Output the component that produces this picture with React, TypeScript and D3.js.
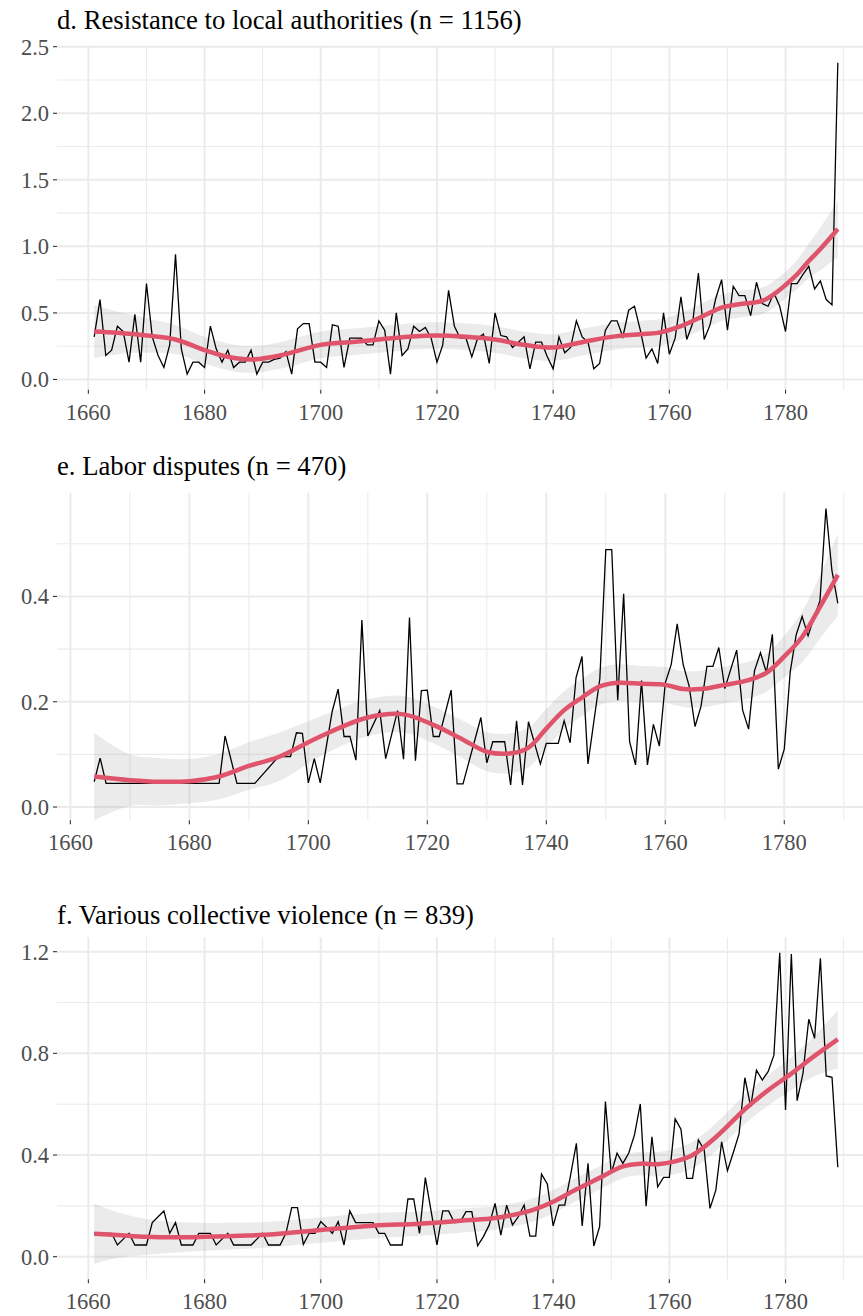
import React, { useEffect, useRef } from 'react';
import * as d3 from 'd3';

// ---- panel d: resistance to local authorities ----
const dYears = d3.range(1661, 1790);
const dValues = [
  0.32, 0.60, 0.18, 0.22, 0.40, 0.36, 0.13, 0.49, 0.13, 0.72,
  0.32, 0.18, 0.09, 0.26, 0.94, 0.23, 0.04, 0.13, 0.13, 0.09,
  0.40, 0.23, 0.13, 0.22, 0.09, 0.13, 0.13, 0.22, 0.04, 0.13,
  0.13, 0.15, 0.16, 0.21, 0.04, 0.38, 0.42, 0.42, 0.13, 0.13,
  0.09, 0.41, 0.40, 0.09, 0.31, 0.31, 0.31, 0.26, 0.26, 0.44,
  0.37, 0.04, 0.50, 0.18, 0.23, 0.40, 0.36, 0.39, 0.31, 0.13,
  0.26, 0.67, 0.40, 0.31, 0.31, 0.17, 0.31, 0.34, 0.12, 0.50,
  0.33, 0.32, 0.24, 0.28, 0.32, 0.08, 0.28, 0.28, 0.17, 0.08,
  0.32, 0.20, 0.24, 0.44, 0.32, 0.28, 0.08, 0.12, 0.37, 0.44,
  0.44, 0.32, 0.52, 0.55, 0.37, 0.16, 0.23, 0.12, 0.50, 0.19,
  0.31, 0.62, 0.30, 0.42, 0.80, 0.30, 0.41, 0.61, 0.75, 0.37,
  0.70, 0.63, 0.63, 0.48, 0.73, 0.57, 0.55, 0.65, 0.55, 0.36,
  0.72, 0.72, 0.79, 0.85, 0.68, 0.74, 0.60, 0.56, 2.38
];
const dSmoothYears = [1661, 1665, 1670, 1675, 1680, 1684, 1688, 1693, 1700, 1705, 1710, 1715, 1720, 1725, 1730, 1735, 1740, 1745, 1750, 1755, 1758, 1762, 1766, 1769, 1772, 1776, 1778, 1780, 1782, 1784, 1786, 1789];
const dSmooth = [0.36, 0.35, 0.33, 0.30, 0.22, 0.17, 0.15, 0.18, 0.26, 0.28, 0.30, 0.32, 0.33, 0.32, 0.30, 0.26, 0.24, 0.28, 0.32, 0.34, 0.35, 0.40, 0.48, 0.54, 0.565, 0.59, 0.64, 0.71, 0.79, 0.89, 0.98, 1.13];
const dSmoothSe = [0.20, 0.16, 0.13, 0.11, 0.10, 0.10, 0.10, 0.10, 0.10, 0.10, 0.10, 0.10, 0.10, 0.10, 0.10, 0.10, 0.10, 0.10, 0.10, 0.10, 0.10, 0.10, 0.10, 0.10, 0.10, 0.10, 0.10, 0.10, 0.11, 0.13, 0.16, 0.21];
const dYBreaks = [0, 0.5, 1, 1.5, 2, 2.5];
const dYMinor = [0.25, 0.75, 1.25, 1.75, 2.25];

// ---- panel e: labor disputes ----
const eYears = [
  1664, 1665, 1666, 1685, 1686, 1688, 1691, 1695, 1696, 1697, 1698, 1699, 1700, 1701, 1702, 1704, 1705, 1706, 1707, 1708,
  1709, 1710, 1712, 1713, 1715, 1716, 1717, 1718, 1719, 1720, 1721, 1722, 1724, 1725, 1726, 1729, 1730, 1731, 1732, 1733,
  1734, 1735, 1736, 1737, 1739, 1740, 1741, 1742, 1743, 1744, 1745, 1746, 1747, 1749, 1750, 1751, 1752, 1753, 1754, 1755,
  1756, 1757, 1758, 1759, 1760, 1761, 1762, 1763, 1764, 1765, 1766, 1767, 1768, 1769, 1770, 1772, 1773, 1774, 1775, 1776,
  1777, 1778, 1779, 1780, 1781, 1782, 1783, 1784, 1785, 1786, 1787, 1788, 1789
];
const eValues = [
  0.048, 0.093, 0.045, 0.045, 0.135, 0.045, 0.045, 0.096, 0.096, 0.096, 0.141, 0.140, 0.046, 0.092, 0.046, 0.181, 0.224, 0.134, 0.134, 0.089,
  0.355, 0.135, 0.183, 0.092, 0.183, 0.091, 0.360, 0.088, 0.221, 0.222, 0.134, 0.134, 0.222, 0.044, 0.044, 0.170, 0.084, 0.124, 0.124, 0.124,
  0.042, 0.164, 0.042, 0.162, 0.082, 0.121, 0.121, 0.121, 0.164, 0.122, 0.246, 0.286, 0.082, 0.244, 0.489, 0.489, 0.203, 0.405, 0.124, 0.080,
  0.240, 0.080, 0.157, 0.116, 0.236, 0.271, 0.348, 0.271, 0.230, 0.153, 0.191, 0.267, 0.267, 0.303, 0.225, 0.298, 0.184, 0.148, 0.259, 0.293,
  0.255, 0.328, 0.072, 0.110, 0.257, 0.327, 0.362, 0.325, 0.360, 0.392, 0.567, 0.450, 0.387
];
const eSmoothYears = [1664, 1670, 1675, 1680, 1685, 1690, 1695, 1702, 1710, 1716, 1721, 1726, 1730, 1734, 1737, 1740, 1743, 1746, 1749, 1752, 1756, 1760, 1763, 1766, 1770, 1774, 1777, 1780, 1783, 1786, 1789];
const eSmooth = [0.058, 0.051, 0.048, 0.049, 0.058, 0.078, 0.095, 0.134, 0.170, 0.176, 0.156, 0.128, 0.105, 0.102, 0.113, 0.149, 0.184, 0.208, 0.229, 0.236, 0.234, 0.232, 0.224, 0.224, 0.232, 0.241, 0.255, 0.286, 0.323, 0.380, 0.441];
const eSmoothSe = [0.083, 0.049, 0.045, 0.042, 0.043, 0.045, 0.046, 0.038, 0.035, 0.035, 0.035, 0.036, 0.037, 0.038, 0.038, 0.037, 0.036, 0.035, 0.035, 0.035, 0.034, 0.034, 0.034, 0.035, 0.035, 0.035, 0.036, 0.040, 0.048, 0.060, 0.078];
const eYBreaks = [0, 0.2, 0.4];
const eYMinor = [0.1, 0.3, 0.5];

// ---- panel f: various collective violence ----
const fYears = d3.range(1661, 1790);
const fValues = [
  0.092, 0.092, 0.092, 0.092, 0.046, 0.069, 0.092, 0.046, 0.046, 0.046,
  0.134, 0.157, 0.180, 0.092, 0.134, 0.046, 0.046, 0.046, 0.092, 0.092,
  0.092, 0.046, 0.069, 0.092, 0.046, 0.046, 0.046, 0.046, 0.069, 0.092,
  0.046, 0.046, 0.046, 0.092, 0.193, 0.193, 0.048, 0.092, 0.092, 0.138,
  0.116, 0.092, 0.138, 0.046, 0.180, 0.134, 0.134, 0.134, 0.134, 0.092,
  0.092, 0.046, 0.046, 0.046, 0.227, 0.227, 0.092, 0.311, 0.178, 0.046,
  0.180, 0.180, 0.134, 0.136, 0.177, 0.177, 0.043, 0.079, 0.125, 0.210,
  0.085, 0.203, 0.125, 0.157, 0.203, 0.081, 0.081, 0.325, 0.286, 0.121,
  0.203, 0.203, 0.321, 0.446, 0.121, 0.367, 0.042, 0.118, 0.610, 0.328,
  0.407, 0.367, 0.407, 0.479, 0.601, 0.199, 0.472, 0.275, 0.312, 0.312,
  0.542, 0.502, 0.308, 0.308, 0.459, 0.420, 0.190, 0.262, 0.452, 0.338,
  0.409, 0.483, 0.704, 0.590, 0.734, 0.695, 0.728, 0.793, 1.196, 0.577,
  1.191, 0.614, 0.721, 0.934, 0.859, 1.174, 0.711, 0.706, 0.352
];
const fSmoothYears = [1661, 1665, 1670, 1675, 1680, 1686, 1692, 1700, 1709, 1717, 1725, 1730, 1736, 1740, 1744, 1748, 1752, 1755, 1758, 1761, 1764, 1768, 1773, 1777, 1781, 1785, 1789];
const fSmooth = [0.090, 0.085, 0.078, 0.076, 0.078, 0.082, 0.088, 0.105, 0.122, 0.130, 0.143, 0.152, 0.180, 0.216, 0.265, 0.310, 0.355, 0.366, 0.364, 0.375, 0.400, 0.470, 0.580, 0.655, 0.720, 0.790, 0.855];
const fSmoothSe = [0.118, 0.090, 0.070, 0.060, 0.055, 0.052, 0.050, 0.050, 0.050, 0.048, 0.047, 0.046, 0.046, 0.046, 0.046, 0.046, 0.046, 0.046, 0.048, 0.050, 0.052, 0.055, 0.057, 0.060, 0.065, 0.080, 0.115];
const fYBreaks = [0, 0.4, 0.8, 1.2];
const fYMinor = [0.2, 0.6, 1.0];

const xBreaks = [1660, 1680, 1700, 1720, 1740, 1760, 1780];
const xMinor = [1670, 1690, 1710, 1730, 1750, 1770, 1790];

const W = 863;
const H = 1316;
const LEFT = 57;
const RIGHT = 875;
const FONT = '"Liberation Serif", "Times New Roman", serif';
const RED = '#DF536B';

const panels = [
  {
    key: 'd', title: 'd. Resistance to local authorities (n = 1156)', titleY: 29,
    years: dYears, values: dValues, sYears: dSmoothYears, smooth: dSmooth, se: dSmoothSe,
    yBreaks: dYBreaks, yMinor: dYMinor, xDomain: [1654.6, 1795.4], yDomain: [-0.077, 2.497],
    top: 47.1, bottom: 389.7
  },
  {
    key: 'e', title: 'e. Labor disputes (n = 470)', titleY: 475,
    years: eYears, values: eValues, sYears: eSmoothYears, smooth: eSmooth, se: eSmoothSe,
    yBreaks: eYBreaks, yMinor: eYMinor, xDomain: [1657.75, 1795.25], yDomain: [-0.025, 0.597],
    top: 492.7, bottom: 820.2
  },
  {
    key: 'f', title: 'f. Various collective violence (n = 839)', titleY: 924,
    years: fYears, values: fValues, sYears: fSmoothYears, smooth: fSmooth, se: fSmoothSe,
    yBreaks: fYBreaks, yMinor: fYMinor, xDomain: [1654.6, 1795.4], yDomain: [-0.089, 1.257],
    top: 937.2, bottom: 1279.3
  }
];

export default function App() {
  const ref = useRef<SVGSVGElement>(null);

  useEffect(() => {
    const svg = d3.select(ref.current);
    svg.selectAll('*').remove();

    panels.forEach(p => {
      const x = d3.scaleLinear().domain(p.xDomain).range([LEFT, RIGHT]);
      const y = d3.scaleLinear().domain(p.yDomain).range([p.bottom, p.top]);
      const g = svg.append('g');

      const clipId = `clip-${p.key}`;
      svg.append('clipPath').attr('id', clipId)
        .append('rect')
        .attr('x', LEFT).attr('y', p.top)
        .attr('width', RIGHT - LEFT).attr('height', p.bottom - p.top);

      // grid
      g.selectAll('.ym').data(p.yMinor).enter().append('line')
        .attr('x1', LEFT).attr('x2', RIGHT)
        .attr('y1', d => y(d)).attr('y2', d => y(d))
        .attr('stroke', '#ebebeb').attr('stroke-width', 1.1);
      g.selectAll('.xm').data(xMinor).enter().append('line')
        .attr('x1', d => x(d)).attr('x2', d => x(d))
        .attr('y1', p.top).attr('y2', p.bottom)
        .attr('stroke', '#ebebeb').attr('stroke-width', 1.1);
      g.selectAll('.yM').data(p.yBreaks).enter().append('line')
        .attr('x1', LEFT).attr('x2', RIGHT)
        .attr('y1', d => y(d)).attr('y2', d => y(d))
        .attr('stroke', '#ebebeb').attr('stroke-width', 2);
      g.selectAll('.xM').data(xBreaks).enter().append('line')
        .attr('x1', d => x(d)).attr('x2', d => x(d))
        .attr('y1', p.top).attr('y2', p.bottom)
        .attr('stroke', '#ebebeb').attr('stroke-width', 2);

      const plot = g.append('g').attr('clip-path', `url(#${clipId})`);

      const band = p.sYears.map((yr, i) => ({ yr, v: p.smooth[i], h: p.se[i] }));
      const area = d3.area<any>()
        .x(d => x(d.yr))
        .y0(d => y(d.v - d.h))
        .y1(d => y(d.v + d.h))
        .curve(d3.curveCatmullRom);
      plot.append('path').datum(band)
        .attr('d', area)
        .attr('fill', '#999999').attr('fill-opacity', 0.2);

      const series = p.years.map((yr, i) => ({ yr, v: p.values[i] }));
      const line = d3.line<any>().x(d => x(d.yr)).y(d => y(d.v));
      plot.append('path').datum(series)
        .attr('d', line)
        .attr('fill', 'none').attr('stroke', '#000').attr('stroke-width', 1.3)
        .attr('stroke-linejoin', 'miter');

      const smoothLine = d3.line<any>().x(d => x(d.yr)).y(d => y(d.v)).curve(d3.curveCatmullRom);
      plot.append('path').datum(band)
        .attr('d', smoothLine)
        .attr('fill', 'none').attr('stroke', RED).attr('stroke-width', 4.5);

      // y axis
      g.selectAll('.yt').data(p.yBreaks).enter().append('line')
        .attr('x1', LEFT - 4).attr('x2', LEFT)
        .attr('y1', d => y(d)).attr('y2', d => y(d))
        .attr('stroke', '#333').attr('stroke-width', 1.1);
      g.selectAll('.yl').data(p.yBreaks).enter().append('text')
        .attr('x', LEFT - 8).attr('y', d => y(d))
        .attr('dy', '0.35em').attr('text-anchor', 'end')
        .attr('font-family', FONT).attr('font-size', 22.5).attr('fill', '#4d4d4d')
        .text(d => d3.format('.1f')(d));

      // x axis
      g.selectAll('.xt').data(xBreaks).enter().append('line')
        .attr('x1', d => x(d)).attr('x2', d => x(d))
        .attr('y1', p.bottom).attr('y2', p.bottom + 4)
        .attr('stroke', '#333').attr('stroke-width', 1.1);
      g.selectAll('.xl').data(xBreaks).enter().append('text')
        .attr('x', d => x(d)).attr('y', p.bottom + 30)
        .attr('text-anchor', 'middle')
        .attr('font-family', FONT).attr('font-size', 22.5).attr('fill', '#4d4d4d')
        .text(d => String(d));

      g.append('text')
        .attr('x', LEFT).attr('y', p.titleY)
        .attr('font-family', FONT).attr('font-size', 26.7).attr('fill', '#000')
        .text(p.title);
    });
  }, []);

  return (
    <svg ref={ref} width={W} height={H}
      style={{ position: 'absolute', left: 0, top: 0, background: '#fff' }} />
  );
}
